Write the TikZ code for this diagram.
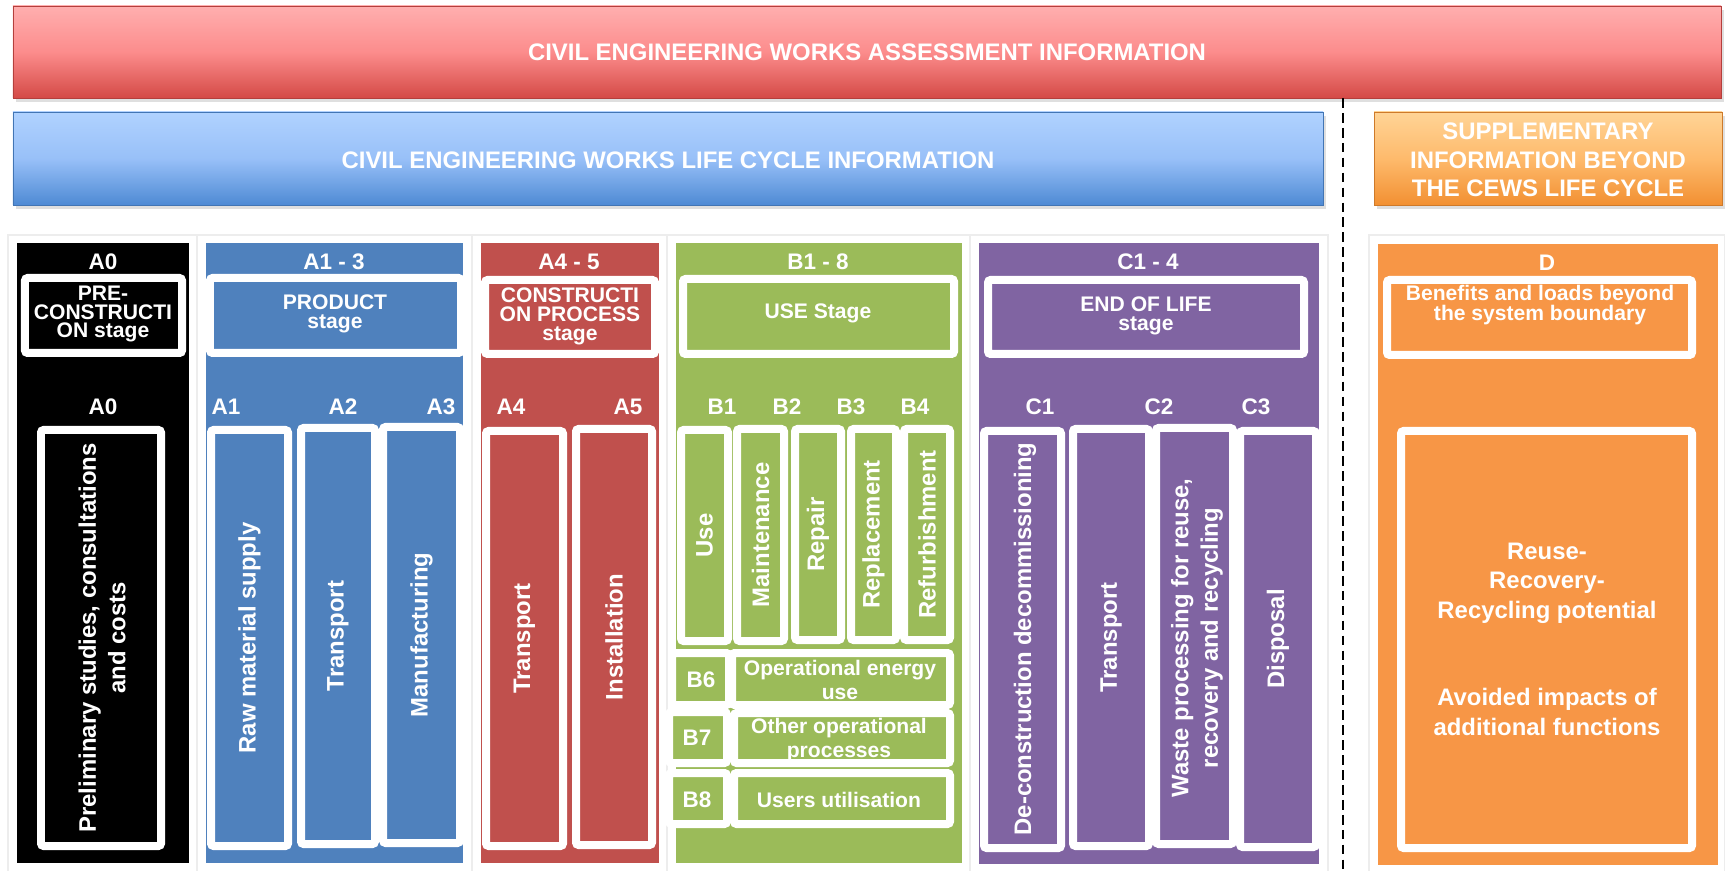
\documentclass[tikz,border=0pt]{standalone}
\usepackage{fontspec}
\setmainfont{Liberation Sans}
\usetikzlibrary{shadows}
\definecolor{cBlack}{RGB}{0,0,0}
\definecolor{cBlue}{RGB}{79,129,189}
\definecolor{cRed}{RGB}{192,80,77}
\definecolor{cGreen}{RGB}{155,187,89}
\definecolor{cPurple}{RGB}{128,100,162}
\definecolor{cOrange}{RGB}{247,150,70}
\definecolor{rTop}{RGB}{255,175,175}
\definecolor{rMid}{RGB}{252,140,140}
\definecolor{rBot}{RGB}{212,74,70}
\definecolor{bTop}{RGB}{176,210,255}
\definecolor{bMid}{RGB}{152,192,248}
\definecolor{bBot}{RGB}{78,138,212}
\definecolor{oTop}{RGB}{255,212,150}
\definecolor{oMid}{RGB}{254,186,108}
\definecolor{oBot}{RGB}{242,144,50}
\newcommand\myfH{\fontsize{13.6}{16.3}\selectfont\bfseries}
\newcommand\myfS{\fontsize{12}{10.8}\selectfont\bfseries}
\newcommand\myfC{\fontsize{12.8}{14}\selectfont\bfseries}
\newcommand\myfV{\fontsize{13.6}{16.8}\selectfont\bfseries}
\newcommand\myfR{\fontsize{12}{13.4}\selectfont\bfseries}
\newcommand\myfB{\fontsize{12}{11.4}\selectfont\bfseries}
\newcommand\myfD{\fontsize{13.6}{16.8}\selectfont\bfseries}
\newcommand\mkrect[6]{%
  \pgfmathsetmacro\myw{(#4-#2)*0.02}%
  \pgfmathsetmacro\myh{(#5-#3)*0.02}%
  \node[#6, minimum width=\myw cm, minimum height=\myh cm] (#1) at ({(#2+#4)/2},{(#3+#5)/2}) {};}
\newcommand\mkwbox[6]{%
  \pgfmathsetmacro\myw{(#4-#2-8)*0.02}%
  \pgfmathsetmacro\myh{(#5-#3-8)*0.02}%
  \node[wbox, fill=#6, minimum width=\myw cm, minimum height=\myh cm] (#1) at ({(#2+#4)/2},{(#3+#5)/2}) {};}
\tikzset{
  base/.style={inner sep=0pt, outer sep=0pt},
  panel/.style={base, fill=white, draw=black!7, line width=0.8pt},
  col/.style={base},
  hdr/.style={base, draw=#1!85!black, line width=0.5pt,
     drop shadow={shadow xshift=1.5pt, shadow yshift=-2pt, opacity=0.25}},
  wbox/.style={base, draw=white, line width=0.16cm, rounded corners=1.5pt,
     drop shadow={shadow xshift=0.8pt, shadow yshift=-1.5pt, opacity=0.3}},
  txt/.style={inner sep=0pt, text=white, align=center},
  dashline/.style={draw=black, line width=1.1pt, dash pattern=on 5.5pt off 3pt}
}
\begin{document}
\begin{tikzpicture}[x=0.02cm, y=-0.02cm]
\useasboundingbox (0,0) rectangle (1725,871);
\fill[white] (0,0) rectangle (1725,871);
% panels
\mkrect{pA0}{8}{235}{198}{880}{panel}
\mkrect{pA13}{197}{235}{472}{880}{panel}
\mkrect{pA45}{472}{235}{668}{880}{panel}
\mkrect{pB}{667}{235}{971}{880}{panel}
\mkrect{pC}{970}{235}{1328}{880}{panel}
\mkrect{pD}{1369}{235}{1725}{880}{panel}
% columns
\mkrect{cA0}{17}{243}{189}{863}{col, fill=cBlack}
\mkrect{cA13}{206}{243}{463}{863}{col, fill=cBlue}
\mkrect{cA45}{481}{243}{659}{863}{col, fill=cRed}
\mkrect{cB}{676}{243}{962}{863}{col, fill=cGreen}
\mkrect{cC}{979}{243}{1319}{864}{col, fill=cPurple}
\mkrect{cD}{1378}{244}{1718}{865}{col, fill=cOrange}
% header bars
\mkrect{hRed}{13}{6}{1721}{98}{hdr=rBot, top color=rTop, bottom color=rBot, middle color=rMid}
\mkrect{hBlue}{13}{112}{1323}{205}{hdr=bBot, top color=bTop, bottom color=bBot, middle color=bMid}
\mkrect{hOrange}{1374}{112}{1722}{205}{hdr=oBot, top color=oTop, bottom color=oBot, middle color=oMid}
\node[txt, font=\myfH] (tRed) at (867,52) {CIVIL ENGINEERING WORKS ASSESSMENT INFORMATION};
\node[txt, font=\myfH] (tBlue) at (668,160) {CIVIL ENGINEERING WORKS LIFE CYCLE INFORMATION};
\node[txt, font=\myfH] (tOrange) at (1548,160) {SUPPLEMENTARY\\INFORMATION BEYOND\\THE CEWS LIFE CYCLE};
% column codes
\node[txt, font=\myfC] (kA0) at (103,262) {A0};
\node[txt, font=\myfC] (kA13) at (334,262) {A1 - 3};
\node[txt, font=\myfC] (kA45) at (569,262) {A4 - 5};
\node[txt, font=\myfC] (kB) at (818,262) {B1 - 8};
\node[txt, font=\myfC] (kC) at (1148,262) {C1 - 4};
\node[txt, font=\myfC] (kD) at (1547,263) {D};
% stage boxes
\mkwbox{sA0}{21}{274}{186}{357}{cBlack}
\mkwbox{sA13}{206}{274}{465}{357}{cBlue}
\mkwbox{sA45}{481}{276}{659}{358}{cRed}
\mkwbox{sB}{679}{275}{958}{358}{cGreen}
\mkwbox{sC}{984}{276}{1308}{358}{cPurple}
\mkwbox{sD}{1383}{276}{1696}{359}{cOrange}
\node[txt, font=\myfS] (tsA0) at (103,314) {PRE-\\CONSTRUCTI\\ON stage};
\node[txt, font=\myfS] (tsA13) at (335,314) {PRODUCT\\stage};
\node[txt, font=\myfS] (tsA45) at (570,316) {CONSTRUCTI\\ON PROCESS\\stage};
\node[txt, font=\myfS] (tsB) at (818,313) {USE Stage};
\node[txt, font=\myfS] (tsC) at (1146,316) {END OF LIFE\\stage};
\node[txt, font=\myfB] (tsD) at (1540,305) {Benefits and loads beyond\\the system boundary};
% sub labels
\node[txt, font=\myfC] (lA0) at (103,407) {A0};
\node[txt, font=\myfC] (lA1) at (226,407) {A1};
\node[txt, font=\myfC] (lA2) at (343,407) {A2};
\node[txt, font=\myfC] (lA3) at (441,407) {A3};
\node[txt, font=\myfC] (lA4) at (511,407) {A4};
\node[txt, font=\myfC] (lA5) at (628,407) {A5};
\node[txt, font=\myfC] (lB1) at (722,407) {B1};
\node[txt, font=\myfC] (lB2) at (787,407) {B2};
\node[txt, font=\myfC] (lB3) at (851,407) {B3};
\node[txt, font=\myfC] (lB4) at (915,407) {B4};
\node[txt, font=\myfC] (lC1) at (1040,407) {C1};
\node[txt, font=\myfC] (lC2) at (1159,407) {C2};
\node[txt, font=\myfC] (lC3) at (1256,407) {C3};
% sub boxes
\mkwbox{bA0}{37}{426}{165}{850}{cBlack}
\mkwbox{bA1}{207}{426}{292}{850}{cBlue}
\mkwbox{bA2}{297}{424}{379}{848}{cBlue}
\mkwbox{bA3}{379}{423}{464}{847}{cBlue}
\mkwbox{bA4}{482}{427}{567}{850}{cRed}
\mkwbox{bA5}{572}{425}{656}{849}{cRed}
\mkwbox{bB1}{677}{426}{732}{645}{cGreen}
\mkwbox{bB2}{733}{425}{788}{645}{cGreen}
\mkwbox{bB3}{791}{425}{845}{644}{cGreen}
\mkwbox{bB4}{847}{425}{900}{644}{cGreen}
\mkwbox{bB5}{900}{425}{954}{644}{cGreen}
\mkwbox{bB6}{668}{649}{733}{709}{cGreen}
\mkwbox{bB6w}{728}{649}{954}{709}{cGreen}
\mkwbox{bB7}{665}{708}{731}{767}{cGreen}
\mkwbox{bB7w}{730}{709}{954}{767}{cGreen}
\mkwbox{bB8}{665}{769}{731}{828}{cGreen}
\mkwbox{bB8w}{730}{769}{954}{828}{cGreen}
\mkwbox{bC1}{980}{427}{1065}{852}{cPurple}
\mkwbox{bC2}{1069}{425}{1153}{850}{cPurple}
\mkwbox{bC3}{1152}{424}{1237}{848}{cPurple}
\mkwbox{bC4}{1236}{427}{1320}{851}{cPurple}
\mkwbox{bD}{1397}{427}{1696}{852}{cOrange}
% vertical texts
\node[txt, font=\myfV, rotate=90] (vA0) at (102,638) {Preliminary studies, consultations\\and costs};
\node[txt, font=\myfV, rotate=90] (vA1) at (bA1.center) {Raw material supply};
\node[txt, font=\myfV, rotate=90] (vA2) at (bA2.center) {Transport};
\node[txt, font=\myfV, rotate=90] (vA3) at (bA3.center) {Manufacturing};
\node[txt, font=\myfV, rotate=90] (vA4) at (bA4.center) {Transport};
\node[txt, font=\myfV, rotate=90] (vA5) at (bA5.center) {Installation};
\node[txt, font=\myfV, rotate=90] (vB1) at (bB1.center) {Use};
\node[txt, font=\myfV, rotate=90] (vB2) at (bB2.center) {Maintenance};
\node[txt, font=\myfV, rotate=90] (vB3) at (bB3.center) {Repair};
\node[txt, font=\myfV, rotate=90] (vB4) at (bB4.center) {Replacement};
\node[txt, font=\myfV, rotate=90] (vB5) at (bB5.center) {Refurbishment};
\node[txt, font=\myfV, rotate=90] (vC1) at (1025,639) {De-construction decommissioning};
\node[txt, font=\myfV, rotate=90] (vC2) at (bC2.center) {Transport};
\node[txt, font=\myfV, rotate=90] (vC3) at (1197,638) {Waste processing for reuse,\\recovery and recycling};
\node[txt, font=\myfV, rotate=90] (vC4) at (bC4.center) {Disposal};
% B rows
\node[txt, font=\myfC] (tB6) at (701,680) {B6};
\node[txt, font=\myfR] (tB6w) at (840,680) {Operational energy\\use};
\node[txt, font=\myfC] (tB7) at (697,738) {B7};
\node[txt, font=\myfR] (tB7w) at (839,740) {Other operational\\processes};
\node[txt, font=\myfC] (tB8) at (697,800) {B8};
\node[txt, font=\myfR] (tB8w) at (839,800) {Users utilisation};
% D texts
\node[txt, font=\myfD] (tD1) at (1547,583) {Reuse-\\Recovery-\\Recycling potential};
\node[txt, font=\myfD] (tD2) at (1547,712) {Avoided impacts of\\additional functions};
% dashed separator
\coordinate (dtop) at (1343,98);
\coordinate (dbot) at (1343,871);
\draw[dashline] (dtop) -- (dbot);
\end{tikzpicture}
\end{document}
